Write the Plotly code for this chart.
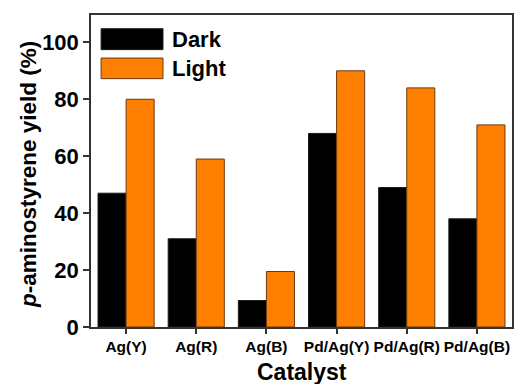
import plotly.graph_objects as go

categories = ["Ag(Y)", "Ag(R)", "Ag(B)", "Pd/Ag(Y)", "Pd/Ag(R)", "Pd/Ag(B)"]
dark_values = [47, 31, 9.3, 68, 49, 38]
light_values = [80, 59, 19.5, 90, 84, 71]
series_names = ["Dark", "Light"]
y_ticks = [0, 20, 40, 60, 80, 100]

FONT = "Arial, Liberation Sans, sans-serif"
BLACK = "#000000"
ORANGE = "#FF7F00"

fig = go.Figure()
fig.add_trace(go.Bar(x=categories, y=dark_values, name=series_names[0],
                     marker=dict(color=BLACK, line=dict(color="#1a1a1a", width=1)),
                     showlegend=False))
fig.add_trace(go.Bar(x=categories, y=light_values, name=series_names[1],
                     marker=dict(color=ORANGE, line=dict(color="#6b3a10", width=1)),
                     showlegend=False))

# Legend drawn as swatches + labels (large rectangles like the reference)
legend_items = [(series_names[0], BLACK, "#1a1a1a", 0.956, 0.889),
                (series_names[1], ORANGE, "#6b3a10", 0.862, 0.796)]
for name, fill, edge, y1, y0 in legend_items:
    fig.add_shape(type="rect", xref="paper", yref="paper",
                  x0=0.024, x1=0.171, y0=y0, y1=y1,
                  fillcolor=fill, line=dict(color=edge, width=1))
    fig.add_annotation(xref="paper", yref="paper", x=0.188, y=(y0 + y1) / 2,
                       text="<b>%s</b>" % name, showarrow=False,
                       xanchor="left", yanchor="middle",
                       font=dict(family=FONT, size=22, color="#000"))

# Axis titles
fig.add_annotation(xref="paper", yref="paper", x=0.5, y=-0.143,
                   text="<b>Catalyst</b>", showarrow=False,
                   xanchor="center", yanchor="middle",
                   font=dict(family=FONT, size=23, color="#000"))
fig.add_annotation(xref="paper", yref="paper", x=-0.15, y=0.49,
                   text="<b><i>p</i>-aminostyrene yield (%)</b>", showarrow=False,
                   xanchor="center", yanchor="middle", textangle=-90,
                   font=dict(family=FONT, size=22.5, color="#000"))

fig.update_layout(
    width=517, height=384,
    margin=dict(l=91, r=5, t=15, b=57),
    paper_bgcolor="white", plot_bgcolor="white",
    barmode="group", bargap=0.2, bargroupgap=0,
    font=dict(family=FONT, color="#000"),
)
fig.update_xaxes(
    showline=True, linecolor="#333", linewidth=1.5, mirror=True,
    ticks="outside", ticklen=5, tickcolor="#333", tickwidth=1.5,
    tickangle=0, automargin=False,
    tickfont=dict(family=FONT, size=15.5, weight="bold"),
    showgrid=False,
)
fig.update_yaxes(
    range=[0, 109.6], tickvals=y_ticks, ticktext=[str(v) for v in y_ticks],
    showline=True, linecolor="#333", linewidth=1.5, mirror=True,
    ticks="outside", ticklen=6, tickcolor="#333", tickwidth=1.5,
    automargin=False,
    tickfont=dict(family=FONT, size=22, weight="bold"),
    showgrid=False, zeroline=False,
)

fig.write_html("out.html", config={"displayModeBar": False},
               post_script="document.body.style.margin='0';document.body.style.overflow='hidden';")
